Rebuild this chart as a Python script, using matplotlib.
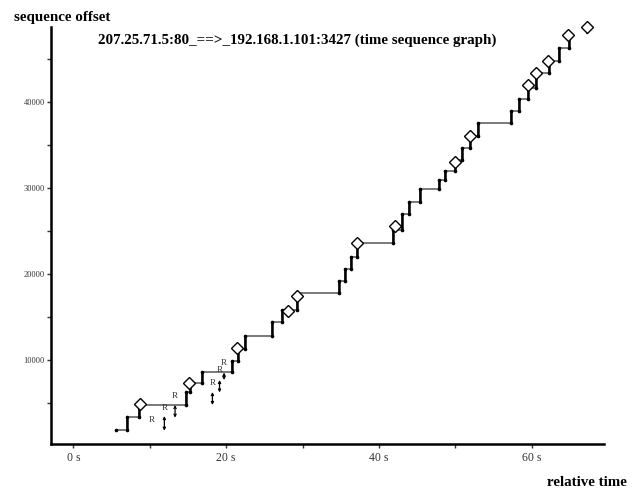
import matplotlib
matplotlib.use("Agg")
import matplotlib.pyplot as plt

# ---- data ----
step_time = [5.59, 7.03, 8.60, 14.75, 15.27, 16.84, 20.73, 21.55, 22.47, 26.0, 27.3,
             29.27, 34.8, 35.55, 36.33, 37.12, 41.8, 42.97, 43.92, 45.36, 47.85,
             48.6, 49.9, 50.9, 51.9, 52.95, 57.23, 58.35, 59.53, 60.54, 62.28,
             63.59, 64.9]
step_seq = [1826, 3337, 4733, 6244, 7291, 8570, 9849, 11244, 12756, 14384, 15780,
            17745, 19151, 20547, 21942, 23570, 25081, 26943, 28372, 29814, 30860,
            32000, 33200, 34600, 36000, 37500, 38904, 40314, 41593, 43340, 44735,
            46210, 47373]

diamond_time = [8.73, 15.18, 21.38, 28.09, 29.27, 37.16, 42.09, 49.9, 51.9,
                59.45, 60.54, 62.15, 64.77, 67.25]
diamond_seq = [4791, 7233, 11326, 15663, 17407, 23535, 25547, 33000, 36000,
               41942, 43372, 44767, 47756, 48721]

r_label_time = [10.26, 11.91, 13.31, 18.24, 19.13, 19.68]
r_label_seq = [2988, 4384, 5779, 7291, 8802, 9582]

r_arrow_time = [11.91, 13.31, 18.2, 19.13, 19.72]
r_arrow_low = [1744, 3256, 4733, 6186, 7640]
r_arrow_high = [3453, 4733, 6244, 7640, 8512]

last_arrow_time = 67.25
last_arrow_seq = [48721, 47756]

x_ticks = [0, 10, 20, 30, 40, 50, 60]
x_tick_labels = ["0 s", "", "20 s", "", "40 s", "", "60 s"]
y_ticks = [5000, 10000, 15000, 20000, 25000, 30000, 35000, 40000, 45000]
y_tick_labels = ["", "10000", "", "20000", "", "30000", "", "40000", ""]

title = "207.25.71.5:80_==>_192.168.1.101:3427 (time sequence graph)"

# ---- figure ----
plt.rcParams['font.family'] = ['Liberation Serif', 'DejaVu Serif']
W, H = 643, 492
fig = plt.figure(figsize=(W / 100, H / 100), dpi=100)
ax = fig.add_axes([51 / W, 1 - 444.3 / H, (604 - 51) / W, (444.3 - 27) / H])
ax.set_xlim(-2.92, 69.43)
ax.set_ylim(163, (445.7 - 27) / 0.0086)

for s in ['top', 'right']:
    ax.spines[s].set_visible(False)
for s in ['left', 'bottom']:
    ax.spines[s].set_linewidth(1.8)
    ax.spines[s].set_color('black')

ax.set_xticks(x_ticks)
ax.set_xticklabels(x_tick_labels)
ax.set_yticks(y_ticks)
ax.set_yticklabels(y_tick_labels)
ax.tick_params(axis='x', direction='out', length=3, width=1, pad=2.5, labelsize=8.5, colors='#333333')
ax.tick_params(axis='y', direction='out', length=3, width=1, pad=1.5, labelsize=6, colors='#333333')

# step line
ax.plot(step_time, step_seq, drawstyle='steps-post', color='#555555', lw=1.1, zorder=2)
# bold verticals
ax.vlines(step_time[1:], step_seq[:-1], step_seq[1:], color='black', lw=1.8, zorder=3)
ax.plot(step_time, step_seq, 'o', color='black', ms=1.6, zorder=4)
ax.plot(step_time[1:], step_seq[:-1], 'o', color='black', ms=1.6, zorder=4)

# diamonds
ax.plot(diamond_time, diamond_seq, 'D', ms=6, mfc='white', mec='black', mew=1.0,
        zorder=5, clip_on=False)

# R labels and arrows
for t, s in zip(r_label_time, r_label_seq):
    ax.text(t, s, "R", fontsize=6.5, ha='center', va='center', color='#333333', zorder=6)
for t, lo, hi in zip(r_arrow_time, r_arrow_low, r_arrow_high):
    ax.annotate('', xy=(t, lo), xytext=(t, hi),
                arrowprops=dict(arrowstyle='<->', lw=0.9, color='black',
                                mutation_scale=4, shrinkA=0, shrinkB=0), zorder=6)
ax.annotate('', xy=(last_arrow_time, last_arrow_seq[1]), xytext=(last_arrow_time, last_arrow_seq[0]),
            arrowprops=dict(arrowstyle='->', lw=0.9, color='black', mutation_scale=4,
                            shrinkA=0, shrinkB=0), zorder=4, annotation_clip=False)

# texts
fig.text(297 / W, 1 - 40 / H, title, ha='center', va='center', fontsize=10.8, fontweight='bold')
fig.text(14 / W, 1 - 18 / H, "sequence offset", ha='left', va='center', fontsize=10.8, fontweight='bold')
fig.text(627 / W, 1 - 483 / H, "relative time", ha='right', va='center', fontsize=10.8, fontweight='bold')

fig.savefig("out.png", dpi=100)
